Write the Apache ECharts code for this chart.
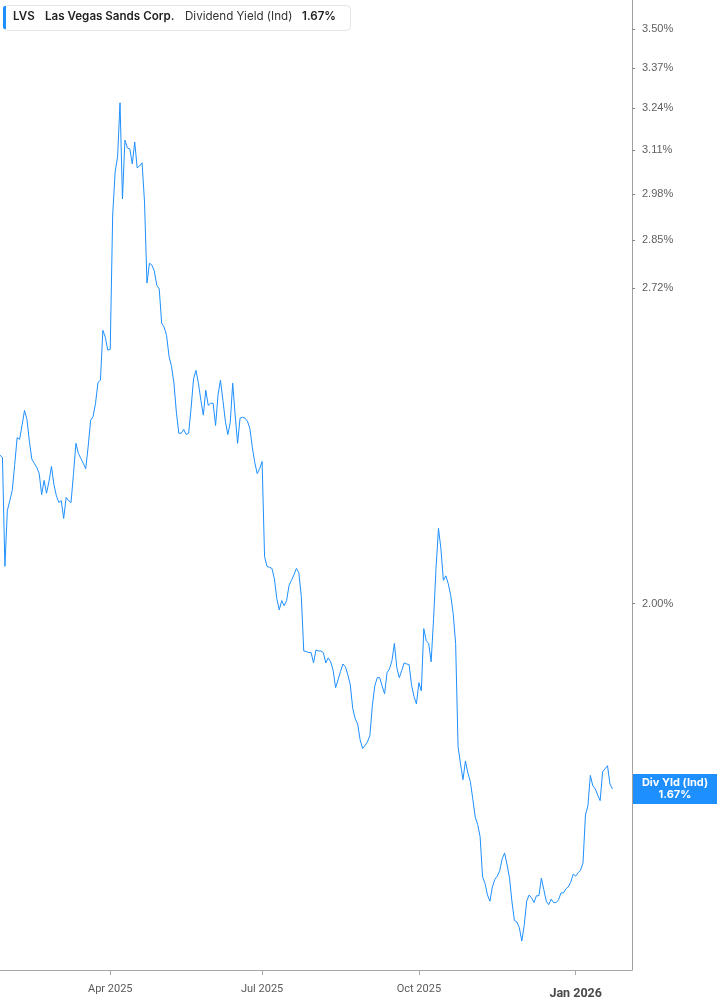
<!DOCTYPE html>
<html>
<head>
<meta charset="utf-8">
<script src="https://cdn.jsdelivr.net/npm/echarts@6.0.0/dist/echarts.min.js"></script>
<style>
html,body{margin:0;padding:0;background:#fff;}
#chart{width:717px;height:1005px;}
</style>
</head>
<body>
<div id="chart"></div>
<script>
// ---- data ----
const ticker = 'LVS';
const company = 'Las Vegas Sands Corp.';
const metric = 'Dividend Yield (Ind)';
const endLabel = 'Div Yld (Ind)';
const firstDay = '2025-01-27';
const axisLastDay = '2026-02-05';
const holidays = ['2025-02-17','2025-04-18','2025-05-26','2025-06-19','2025-07-04','2025-09-01','2025-11-27','2025-12-25','2026-01-01','2026-01-19'];
const monthNames = ['Jan','Feb','Mar','Apr','May','Jun','Jul','Aug','Sep','Oct','Nov','Dec'];
const yTicks = [3.50, 3.37, 3.24, 3.11, 2.98, 2.85, 2.72, 2.00];
const divYield = [
2.311,2.306,2.074,2.190,2.211,2.233,2.290,2.351,2.347,2.379,
2.414,2.393,2.342,2.302,2.293,2.284,2.270,2.224,2.255,2.227,
2.253,2.286,2.246,2.222,2.207,2.211,2.173,2.218,2.211,2.207,
2.270,2.338,2.315,2.304,2.293,2.281,2.331,2.391,2.400,2.431,
2.481,2.486,2.610,2.592,2.560,2.562,2.920,3.045,3.090,3.257,
2.966,3.141,3.117,3.114,3.069,3.135,3.057,3.063,3.072,2.957,
2.733,2.786,2.781,2.765,2.727,2.717,2.628,2.618,2.597,2.545,
2.520,2.479,2.410,2.361,2.361,2.370,2.358,2.361,2.419,2.489,
2.510,2.479,2.438,2.403,2.462,2.426,2.431,2.431,2.379,2.450,
2.486,2.438,2.389,2.358,2.386,2.479,2.403,2.338,2.396,2.398,
2.396,2.389,2.372,2.329,2.295,2.270,2.281,2.297,2.094,2.074,
2.072,2.070,2.049,2.010,1.988,2.006,1.996,2.006,2.036,2.046,
2.057,2.070,2.061,2.014,1.910,1.909,1.907,1.907,1.888,1.912,
1.910,1.910,1.907,1.888,1.897,1.890,1.874,1.843,1.857,1.872,
1.886,1.881,1.866,1.848,1.806,1.788,1.779,1.752,1.737,1.742,
1.748,1.759,1.811,1.846,1.861,1.861,1.846,1.832,1.870,1.877,
1.892,1.924,1.879,1.861,1.874,1.888,1.886,1.885,1.848,1.827,
1.814,1.852,1.837,1.952,1.929,1.924,1.890,1.971,2.070,2.152,
2.110,2.046,2.055,2.039,2.016,1.981,1.924,1.740,1.711,1.685,
1.716,1.696,1.682,1.654,1.625,1.613,1.594,1.533,1.523,1.506,
1.497,1.518,1.529,1.534,1.542,1.560,1.569,1.551,1.531,1.496,
1.469,1.467,1.459,1.440,1.462,1.497,1.506,1.502,1.495,1.505,
1.505,1.531,1.514,1.497,1.492,1.500,1.495,1.495,1.499,1.509,
1.509,1.515,1.518,1.525,1.537,1.534,1.539,1.543,1.554,1.628,
1.643,1.692,1.675,1.670,1.660,1.651,1.698,1.703,1.708,1.678,
1.670
];
const currentYield = 1.67;

// ---- trading-day categories (axis runs a few sessions past the last value) ----
const dates = [];
(function () {
  const d = new Date(firstDay + 'T00:00:00Z');
  const end = new Date(axisLastDay + 'T00:00:00Z');
  while (d <= end) {
    const wd = d.getUTCDay();
    const s = d.toISOString().slice(0, 10);
    if (wd !== 0 && wd !== 6 && holidays.indexOf(s) < 0) dates.push(s);
    d.setUTCDate(d.getUTCDate() + 1);
  }
})();

function isQuarterStart(idx) {
  if (idx === 0) return false;
  const m = +dates[idx].slice(5, 7) - 1;
  const pm = +dates[idx - 1].slice(5, 7) - 1;
  return m !== pm && m % 3 === 0;
}

const chart = echarts.init(document.getElementById('chart'), null, { renderer: 'canvas' });
const blue = '#1e8fff';
const pct = v => v.toFixed(2) + '%';
const gridRight = 85;

chart.setOption({
  animation: false,
  backgroundColor: '#ffffff',
  grid: { left: 0, right: gridRight, top: 0, bottom: 35, containLabel: false, outerBoundsMode: 'none' },
  xAxis: {
    type: 'category',
    data: dates,
    boundaryGap: false,
    axisLine: { show: true, lineStyle: { color: '#a8a8a8', width: 1 } },
    axisTick: { show: true, length: 5, interval: idx => isQuarterStart(idx), lineStyle: { color: '#a8a8a8' } },
    axisLabel: {
      interval: idx => isQuarterStart(idx),
      margin: 14,
      color: '#5a5a5a',
      fontFamily: 'Roboto',
      fontSize: 11,
      formatter: v => {
        const m = +v.slice(5, 7) - 1;
        const label = monthNames[m] + ' ' + v.slice(0, 4);
        return m === 0 ? '{b|' + label + '}' : label;
      },
      rich: { b: { fontWeight: 'bold', fontSize: 12.5, color: '#4a4a4a', fontFamily: 'Roboto', padding: [3, 0, 0, 0] } }
    },
    splitLine: { show: false }
  },
  yAxis: {
    type: 'log',
    logBase: 10,
    position: 'right',
    min: 1.4,
    max: 3.6,
    axisLine: { show: true, lineStyle: { color: '#a0a0a0', width: 1 } },
    axisTick: { show: true, length: 3, customValues: yTicks, lineStyle: { color: '#888' } },
    axisLabel: {
      customValues: yTicks,
      margin: 10,
      color: '#606060',
      fontFamily: 'Liberation Sans',
      fontSize: 11,
      formatter: v => pct(v)
    },
    splitLine: { show: false },
    minorTick: { show: false },
    minorSplitLine: { show: false }
  },
  series: [{
    type: 'line',
    data: divYield,
    showSymbol: false,
    symbol: 'none',
    lineStyle: { color: blue, width: 1 },
    itemStyle: { color: blue },
    silent: true
  }]
});

// current-value tag on the y axis, placed through the axis scale
const tagY = chart.convertToPixel({ yAxisIndex: 0 }, currentYield);
const axisX = chart.getWidth() - gridRight;
const tagW = chart.getWidth() - axisX - 1;
chart.setOption({
  graphic: [
    { type: 'rect', left: 3, top: 5, shape: { width: 347, height: 25, r: 4 }, style: { fill: '#fff', stroke: '#e4e4e4', lineWidth: 1 }, z: 10 },
    { type: 'rect', left: 3, top: 6, shape: { width: 3, height: 23, r: [2, 0, 0, 2] }, style: { fill: blue }, z: 11 },
    { type: 'text', left: 13, top: 11, style: { text: ticker, fill: '#222', font: '600 11.6px Inter' }, z: 11 },
    { type: 'text', left: 45, top: 11, style: { text: company, fill: '#222', font: '600 11.6px Inter' }, z: 11 },
    { type: 'text', left: 185, top: 11, style: { text: metric, fill: '#333', font: '400 11.6px Inter' }, z: 11 },
    { type: 'text', left: 302, top: 11, style: { text: pct(currentYield), fill: '#222', font: '600 11.6px Inter' }, z: 11 },
    {
      type: 'group', x: axisX + 1, y: tagY - 15, z: 20,
      children: [
        { type: 'rect', shape: { x: 0, y: 0, width: tagW, height: 30 }, style: { fill: blue } },
        { type: 'text', x: tagW / 2, y: 15, style: {
          text: endLabel + '\n' + pct(currentYield), fill: '#fff', font: '700 11px Inter',
          align: 'center', verticalAlign: 'middle', lineHeight: 12 } }
      ]
    }
  ]
});
</script>
</body>
</html>
